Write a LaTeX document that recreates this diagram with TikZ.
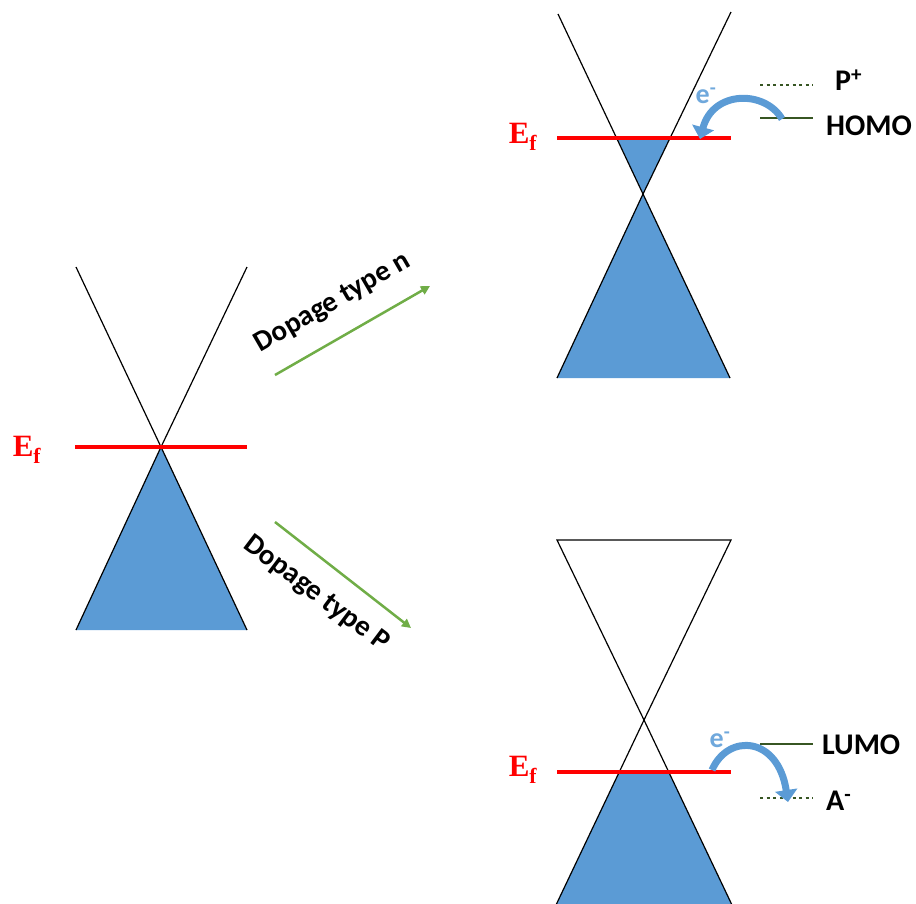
\documentclass[tikz,border=0pt]{standalone}
\usepackage{fontspec}
\setmainfont{Carlito}
\newfontfamily\serifbold{Liberation Serif}
\usetikzlibrary{arrows.meta}
\definecolor{bandblue}{HTML}{5B9BD5}
\definecolor{arrowblue}{HTML}{5B9BD5}
\definecolor{elblue}{HTML}{6FA8DC}
\definecolor{dopgreen}{HTML}{70AD47}
\definecolor{lvlgreen}{HTML}{375623}
\definecolor{efred}{HTML}{FF0000}
\tikzset{
  coneline/.style={draw=black, line width=1.2pt},
  bandfill/.style={fill=bandblue, draw=none},
  fermi/.style={draw=efred, line width=4pt},
  eflabel/.style={text=efred, font=\serifbold\bfseries\fontsize{31}{34}\selectfont, inner sep=0pt},
  lvl/.style={draw=lvlgreen, line width=2pt},
  lvldot/.style={draw=lvlgreen, line width=2.2pt, dash pattern=on 3pt off 3.5pt},
  lvllabel/.style={font=\bfseries\fontsize{30}{32}\selectfont, anchor=west, inner sep=0pt},
  elabel/.style={text=elblue, font=\bfseries\fontsize{28}{30}\selectfont, inner sep=0pt},
  transfer/.style={draw=arrowblue, line width=7pt, -{Triangle[width=22pt,length=12pt]}},
  dopage/.style={draw=dopgreen, line width=2.5pt, -{Triangle[width=9pt,length=9pt]}},
  doplabel/.style={font=\bfseries\fontsize{29}{31}\selectfont, inner sep=0pt},
}
\begin{document}
\begin{tikzpicture}[x=1pt,y=-1pt]
\useasboundingbox (0,0) rectangle (916,903);
% ---------- left cone ----------
\coordinate (LA) at (161,447);
\coordinate (LTL) at (76,267);
\coordinate (LTR) at (247,267);
\coordinate (LBL) at (76,630);
\coordinate (LBR) at (247,630);
\fill[bandfill] (LA) -- (LBR) -- (LBL) -- cycle;
\draw[coneline] (LTL) -- (LA) -- (LBR);
\draw[coneline] (LTR) -- (LA) -- (LBL);
\draw[fermi] (75,447) -- (247,447);
\node[eflabel] (ef1) at (27,450) {E\textsubscript{f}};
% ---------- top right cone (n) ----------
\coordinate (NA) at (643,194);
\coordinate (NTL) at (558,14);
\coordinate (NTR) at (731,12);
\coordinate (NBL) at (557,378);
\coordinate (NBR) at (730,378);
\fill[bandfill] (NA) -- (NBR) -- (NBL) -- cycle;
\fill[bandfill] (NA) -- (617,138) -- (670,138) -- cycle;
\draw[coneline] (NTL) -- (NA) -- (NBR);
\draw[coneline] (NTR) -- (NA) -- (NBL);
\draw[fermi] (557,138) -- (731,138);
\node[eflabel] (ef2) at (523,137) {E\textsubscript{f}};
\draw[lvldot] (760,85) -- (813,85);
\draw[lvl] (760,118) -- (813,118);
\node[lvllabel] (pplus) at (835,80) {P\textsuperscript{+}};
\node[lvllabel] (homo) at (826,126) {HOMO};
\node[elabel] (e1) at (706,96) {e\textsuperscript{-}};
\coordinate (h0) at (782,119);
\coordinate (h1) at (700,139);
\draw[transfer] (h0) .. controls (765,90) and (713,90) .. (h1);
% ---------- bottom right cone (p) ----------
\coordinate (PA) at (644,720);
\coordinate (PTL) at (557,540);
\coordinate (PTR) at (731,540);
\coordinate (PBL) at (556,905);
\coordinate (PBR) at (732,905);
\fill[bandfill] (619.3,772) -- (668.7,772) -- (PBR) -- (PBL) -- cycle;
\draw[coneline] (PTL) -- (PTR) -- (PA) -- cycle;
\draw[coneline] (PA) -- (PBL);
\draw[coneline] (PA) -- (PBR);
\draw[fermi] (557,772) -- (731,772);
\node[eflabel] (ef3) at (523,770) {E\textsubscript{f}};
\draw[lvl] (760,744) -- (813,744);
\draw[lvldot] (760,798) -- (813,798);
\node[lvllabel] (lumo) at (822,745) {LUMO};
\node[lvllabel] (aminus) at (826,801) {A\textsuperscript{-}};
\node[elabel] (e2) at (720,740) {e\textsuperscript{-}};
\coordinate (l0) at (712,770);
\coordinate (l1) at (788,802);
\draw[transfer] (l0) .. controls (728,733) and (778,736) .. (l1);
% ---------- doping arrows ----------
\coordinate (n0) at (275,375);
\coordinate (n1) at (430,286);
\draw[dopage] (n0) -- (n1);
\node[doplabel, rotate=30] (nlab) at (333,303) {Dopage type n};
\coordinate (p0) at (275,522);
\coordinate (p1) at (411,628);
\draw[dopage] (p0) -- (p1);
\node[doplabel, rotate=-37] (plab) at (316,594) {Dopage type P};
\end{tikzpicture}
\end{document}
